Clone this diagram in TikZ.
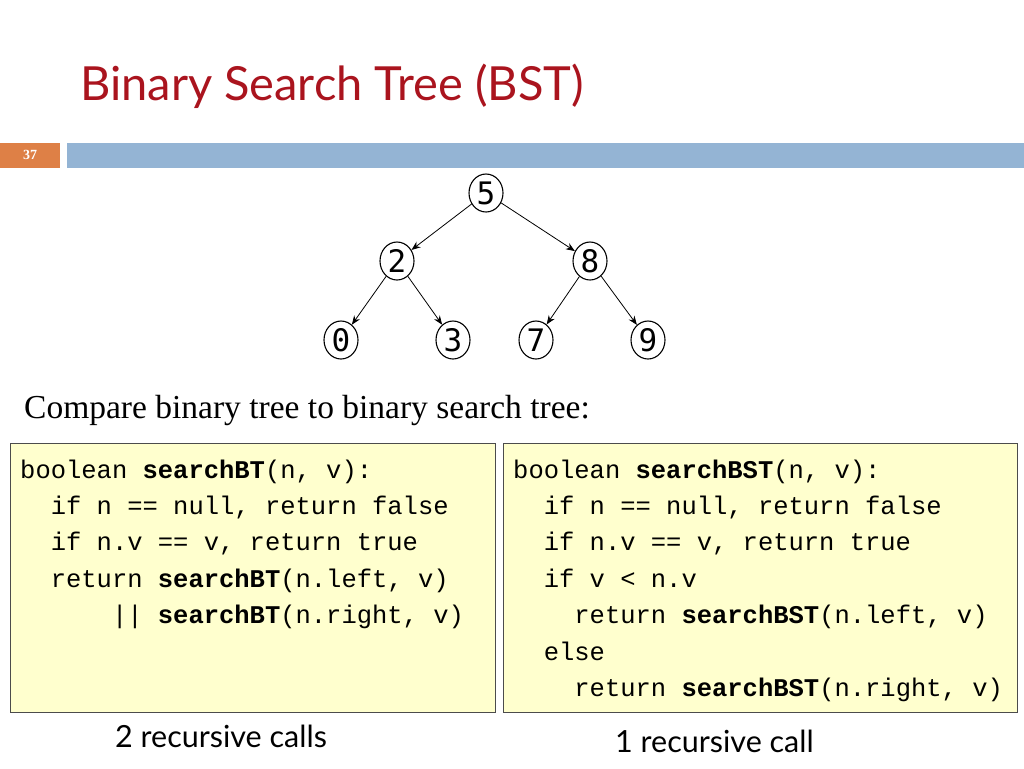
\documentclass[tikz,border=0pt]{standalone}
\usepackage{fontspec}
\setmainfont{Liberation Serif}
\setmonofont{Liberation Mono}
\newfontfamily\titlefont{Lato}
\newfontfamily\nodefont{DejaVu Sans Mono}
\usetikzlibrary{shapes.geometric,arrows.meta}
\definecolor{titlered}{RGB}{170,20,30}
\definecolor{barblue}{RGB}{148,180,212}
\definecolor{barorange}{RGB}{222,128,70}
\definecolor{codebg}{RGB}{255,255,206}
\tikzset{tn/.style={draw,ellipse,line width=1.1,inner sep=0pt,minimum width=34,minimum height=38,font=\nodefont\fontsize{31}{31}\selectfont,fill=white},
 ed/.style={-{Stealth[length=9,width=7]},line width=0.8},
 code/.style={anchor=base west,font=\ttfamily\fontsize{25.5}{25.5}\selectfont,inner sep=0pt},
 cbox/.style={draw=black!70,fill=codebg,line width=1}}
\begin{document}
\begin{tikzpicture}[x=1pt,y=-1pt]
\useasboundingbox (0,0) rectangle (1024,768);
\node[anchor=base west,inner sep=0,text=titlered,font=\titlefont\fontsize{47}{47}\selectfont] (title) at (80,100) {Binary Search Tree (BST)};
\fill[barorange] (0,143) rectangle (60,168);
\fill[barblue] (67,143) rectangle (1024,168);
\node[text=white,font=\bfseries\fontsize{14}{14}\selectfont] (num) at (30,155) {37};
\node[tn] (n5) at (486,193) {5};
\node[tn] (n2) at (397,261) {2};
\node[tn] (n8) at (590,261) {8};
\node[tn] (n0) at (341,340) {0};
\node[tn] (n3) at (453,340) {3};
\node[tn] (n7) at (536,340) {7};
\node[tn] (n9) at (648,340) {9};
\draw[ed] (n5) -- (n2); \draw[ed] (n5) -- (n8);
\draw[ed] (n2) -- (n0); \draw[ed] (n2) -- (n3);
\draw[ed] (n8) -- (n7); \draw[ed] (n8) -- (n9);
\node[anchor=base west,inner sep=0,font=\fontsize{33.5}{33.5}\selectfont] (cmp) at (24,418) {Compare binary tree to binary search tree:};
\draw[cbox] (10,443) rectangle (495,712);
\draw[cbox] (503,443) rectangle (1017,712);
\node[code] (l1) at (20,478) {boolean \textbf{searchBT}(n, v):};
\node[code] (l2) at (20,514) {\ \ if n == null, return false};
\node[code] (l3) at (20,550) {\ \ if n.v == v, return true};
\node[code] (l4) at (20,587) {\ \ return \textbf{searchBT}(n.left, v)};
\node[code] (l5) at (20,623) {\ \ \ \ \ \ || \textbf{searchBT}(n.right, v)};
\node[code] (r1) at (513,478) {boolean \textbf{searchBST}(n, v):};
\node[code] (r2) at (513,514) {\ \ if n == null, return false};
\node[code] (r3) at (513,550) {\ \ if n.v == v, return true};
\node[code] (r4) at (513,587) {\ \ if v < n.v};
\node[code] (r5) at (513,623) {\ \ \ \ return \textbf{searchBST}(n.left, v)};
\node[code] (r6) at (513,660) {\ \ else};
\node[code] (r7) at (513,696) {\ \ \ \ return \textbf{searchBST}(n.right, v)};
\node[anchor=base west,inner sep=0,font=\titlefont\fontsize{30.5}{30.5}\selectfont] (lab1) at (115,747) {2 recursive calls};
\node[anchor=base west,inner sep=0,font=\titlefont\fontsize{30.5}{30.5}\selectfont] (lab2) at (615,752) {1 recursive call};
\end{tikzpicture}
\end{document}
